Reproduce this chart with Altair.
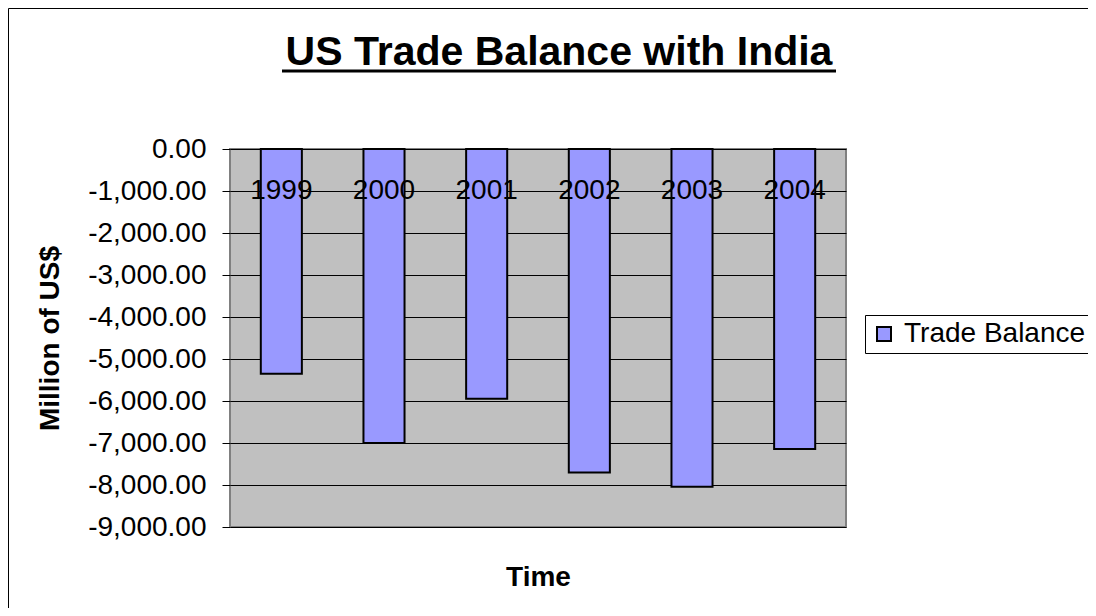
import altair as alt
import pandas as pd

years = ["1999", "2000", "2001", "2002", "2003", "2004"]
balance = [-5350, -7000, -5945, -7700, -8040, -7143]
series = ["Trade Balance"] * 6
y_ticks = [0, -1000, -2000, -3000, -4000, -5000, -6000, -7000, -8000, -9000]

W, H = 616, 378
PL, PT = 222, 141
PR = 1080 - W - PL
PB = 600 - H - PT
FONT = "Liberation Sans"

df = pd.DataFrame({"Year": years, "Balance": balance, "Series": series})

bars = alt.Chart(df).mark_bar(stroke="black", strokeWidth=2).encode(
    x=alt.X(
        "Year:N", sort=years,
        scale=alt.Scale(paddingInner=0.6, paddingOuter=0.3),
        axis=alt.Axis(
            orient="bottom", offset=-H, title="Time", titleFontSize=28,
            titleFontWeight="bold", titleY=428, titleBaseline="middle",
            titleColor="black", titleFont=FONT,
            labelAngle=0, labelFontSize=28, labelPadding=19, labelColor="black",
            labelFont=FONT, tickSize=8, tickColor="black", tickWidth=1,
            domain=False, bandPosition=0, grid=False, zindex=1,
        ),
    ),
    y=alt.Y(
        "Balance:Q",
        scale=alt.Scale(domain=[-9000, 0], nice=False, zero=False),
        axis=alt.Axis(
            values=y_ticks,
            labelExpr="replace(format(datum.value, ',.2f'), '\u2212', '-')",
            labelFontSize=28, labelColor="black", labelFont=FONT, labelPadding=16,
            tickSize=8, tickColor="black", domain=False,
            grid=True, gridColor="black", gridWidth=1, gridOpacity=1,
            title="Million of US$", titleFontSize=28, titleFontWeight="bold",
            titleColor="black", titleFont=FONT, titleX=-180, titleY=H / 2,
            titleBaseline="middle", titleAlign="center", titleAngle=270,
        ),
    ),
    color=alt.Color(
        "Series:N",
        scale=alt.Scale(range=["#9999FF"]),
        legend=alt.Legend(
            title=None, orient="none", legendX=635, legendY=166,
            strokeColor="black", fillColor="white", padding=5,
            labelFontSize=28, labelFont=FONT, labelColor="black", labelLimit=400,
            labelOffset=6,
            symbolType="square", symbolSize=196, symbolStrokeColor="black",
            symbolStrokeWidth=2, symbolOpacity=1,
        ),
    ),
)

underline = alt.Chart(alt.Data(values=[{}])).mark_rule(
    color="black", strokeWidth=3
).encode(x=alt.value(52), x2=alt.value(606), y=alt.value(-78))

frame = alt.Chart(alt.Data(values=[{}])).mark_rect(
    fill=None, stroke="black", strokeWidth=1
).encode(
    x=alt.value(-221.5), x2=alt.value(PR + W + 50),
    y=alt.value(-140.5), y2=alt.value(H + PB + 50),
)

chart = alt.layer(frame, bars, underline).properties(
    width=W, height=H,
    padding={"left": PL, "top": PT, "right": PR, "bottom": PB},
    autosize=alt.AutoSizeParams(type="none"),
    background="white",
    title=alt.TitleParams(
        "US Trade Balance with India", fontSize=41, fontWeight="bold",
        font=FONT, color="black", anchor="middle", frame="group", dx=21,
        baseline="alphabetic", offset=-97.5,
    ),
).configure_view(
    fill="#C0C0C0", stroke="#808080", strokeWidth=2
)

chart.save("out.html", embed_options={"renderer": "svg", "actions": False})
